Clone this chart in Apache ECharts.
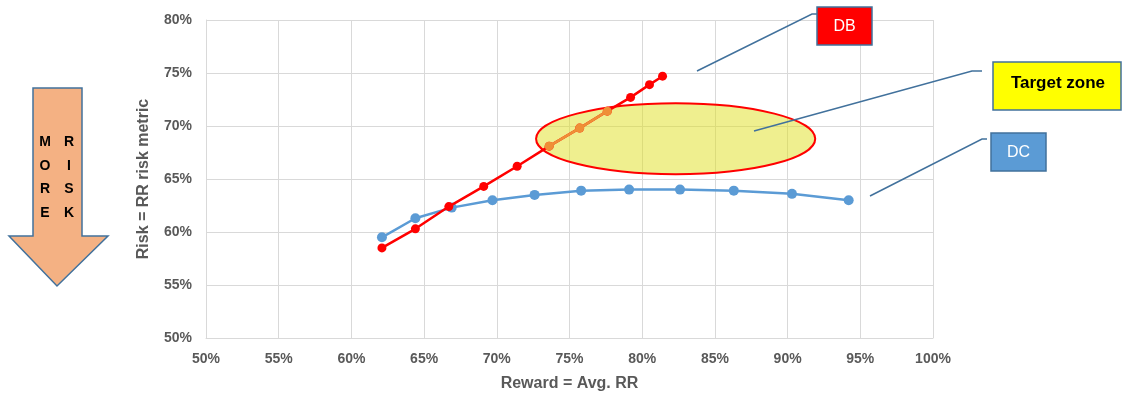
<!DOCTYPE html>
<html>
<head>
<meta charset="utf-8">
<script src="https://cdn.jsdelivr.net/npm/echarts@6/dist/echarts.min.js"></script>
<style>
  html, body { margin: 0; padding: 0; background: #fff; }
  #chart { width: 1123px; height: 400px; }
</style>
</head>
<body>
<div id="chart"></div>
<script>
// Reward (x, %) and risk (y, %) for the DB path
const dbReward = [62.1, 64.4, 66.7, 69.1, 71.4, 73.6, 75.7, 77.6, 79.2, 80.5, 81.4];
const dbRisk   = [58.5, 60.3, 62.4, 64.3, 66.2, 68.1, 69.8, 71.4, 72.7, 73.9, 74.7];
// Portion of the DB path that falls inside the target zone
const dbZoneReward = [73.6, 75.7, 77.6];
const dbZoneRisk   = [68.1, 69.8, 71.4];
// Reward / risk for the DC path
const dcReward = [62.1, 64.4, 66.9, 69.7, 72.6, 75.8, 79.1, 82.6, 86.3, 90.3, 94.2];
const dcRisk   = [59.5, 61.3, 62.3, 63.0, 63.5, 63.9, 64.0, 64.0, 63.9, 63.6, 63.0];
// Target zone ellipse: centre reward, centre risk, half-width, half-height (in %)
const targetZone = [82.3, 68.8, 9.6, 3.35];
// Axis tick values
const xTicks = [50, 55, 60, 65, 70, 75, 80, 85, 90, 95, 100];
const yTicks = [50, 55, 60, 65, 70, 75, 80];

const pairs = (xs, ys) => xs.map((x, i) => [x, ys[i]]);

const FONT = "'Liberation Sans Narrow', 'Liberation Sans', Arial, sans-serif";
const tickStyle = { color: '#595959', fontWeight: 'bold', fontSize: 14, fontFamily: FONT };
const gridLine = { lineStyle: { color: '#d9d9d9', width: 1 } };

const chart = echarts.init(document.getElementById('chart'), null, { renderer: 'canvas' });

const option = {
  animation: false,
  backgroundColor: '#ffffff',
  grid: { left: 206, right: 190, top: 20, bottom: 62, containLabel: false },
  xAxis: {
    type: 'value',
    min: xTicks[0], max: xTicks[xTicks.length - 1], interval: 5,
    name: 'Reward = Avg. RR',
    nameLocation: 'middle', nameGap: 38,
    nameTextStyle: { color: '#595959', fontWeight: 'bold', fontSize: 16, fontFamily: FONT },
    axisLine: { show: true, lineStyle: { color: '#d9d9d9' } },
    axisTick: { show: false },
    splitLine: { show: true, ...gridLine },
    axisLabel: { ...tickStyle, margin: 14, formatter: v => v + '%' }
  },
  yAxis: {
    type: 'value',
    min: yTicks[0], max: yTicks[yTicks.length - 1], interval: 5,
    name: 'Risk = RR risk metric',
    nameLocation: 'middle', nameGap: 54, nameRotate: 90,
    nameTextStyle: { color: '#595959', fontWeight: 'bold', fontSize: 16, fontFamily: FONT },
    axisLine: { show: true, lineStyle: { color: '#d9d9d9' } },
    axisTick: { show: false },
    splitLine: { show: true, ...gridLine },
    axisLabel: { ...tickStyle, margin: 14, formatter: v => v + '%' }
  },
  series: [
    {
      name: 'Target zone', type: 'custom', z: 2,
      data: [targetZone],
      renderItem: (params, api) => {
        const c = api.coord([api.value(0), api.value(1)]);
        const s = api.size([api.value(2), api.value(3)]);
        return {
          type: 'ellipse',
          shape: { cx: c[0], cy: c[1], rx: s[0], ry: s[1] },
          style: { fill: 'rgba(223,223,31,0.5)', stroke: '#FF0000', lineWidth: 2 }
        };
      }
    },
    {
      name: 'DC', type: 'line', data: pairs(dcReward, dcRisk),
      symbol: 'circle', symbolSize: 10,
      lineStyle: { color: '#5B9BD5', width: 2.5 },
      itemStyle: { color: '#5B9BD5' }, z: 3
    },
    {
      name: 'DB', type: 'line', data: pairs(dbReward, dbRisk),
      symbol: 'circle', symbolSize: 9,
      lineStyle: { color: '#FF0000', width: 2.5 },
      itemStyle: { color: '#FF0000' }, z: 4
    },
    {
      name: 'DB in zone', type: 'line', data: pairs(dbZoneReward, dbZoneRisk),
      symbol: 'circle', symbolSize: 9,
      lineStyle: { color: '#EF8F36', width: 2.5 },
      itemStyle: { color: '#EF8F36' }, z: 5
    }
  ],
  graphic: [
    // "More risk" arrow pointing down
    {
      type: 'polygon', z: 10,
      shape: { points: [[33, 88], [82, 88], [82, 236], [108, 236], [57, 286], [9, 236], [33, 236]] },
      style: { fill: '#F4B183', stroke: '#41719C', lineWidth: 1.5 }
    },
    ...['M', 'O', 'R', 'E'].map((ch, i) => ({
      type: 'text', z: 11,
      style: { x: 45, y: 142 + i * 23.7, text: ch, fill: '#000', font: "bold 14px " + FONT, align: 'center', verticalAlign: 'middle' }
    })),
    ...['R', 'I', 'S', 'K'].map((ch, i) => ({
      type: 'text', z: 11,
      style: { x: 69, y: 142 + i * 23.7, text: ch, fill: '#000', font: "bold 14px " + FONT, align: 'center', verticalAlign: 'middle' }
    })),
    // DB callout
    {
      type: 'polyline', z: 10,
      shape: { points: [[697, 71], [812, 14], [817, 14]] },
      style: { stroke: '#41719C', lineWidth: 1.5, fill: null }
    },
    {
      type: 'rect', z: 10,
      shape: { x: 817, y: 7, width: 55, height: 38 },
      style: { fill: '#FF0000', stroke: '#41719C', lineWidth: 1.5 }
    },
    {
      type: 'text', z: 11,
      style: { x: 844.5, y: 27, text: 'DB', fill: '#fff', font: "16px " + FONT, align: 'center', verticalAlign: 'middle' }
    },
    // Target zone callout
    {
      type: 'polyline', z: 10,
      shape: { points: [[754, 131], [972, 71], [982, 71]] },
      style: { stroke: '#41719C', lineWidth: 1.5, fill: null }
    },
    {
      type: 'rect', z: 10,
      shape: { x: 993, y: 62, width: 128, height: 48 },
      style: { fill: '#FFFF00', stroke: '#41719C', lineWidth: 1.5 }
    },
    {
      type: 'text', z: 11,
      style: { x: 1058, y: 83, text: 'Target zone', fill: '#000', font: "bold 17px " + FONT, align: 'center', verticalAlign: 'middle' }
    },
    // DC callout
    {
      type: 'polyline', z: 10,
      shape: { points: [[870, 196], [982, 139], [987, 139]] },
      style: { stroke: '#41719C', lineWidth: 1.5, fill: null }
    },
    {
      type: 'rect', z: 10,
      shape: { x: 991, y: 133, width: 55, height: 38 },
      style: { fill: '#5B9BD5', stroke: '#41719C', lineWidth: 1.5 }
    },
    {
      type: 'text', z: 11,
      style: { x: 1018.5, y: 153, text: 'DC', fill: '#fff', font: "16px " + FONT, align: 'center', verticalAlign: 'middle' }
    }
  ]
};

chart.setOption(option);
</script>
</body>
</html>
